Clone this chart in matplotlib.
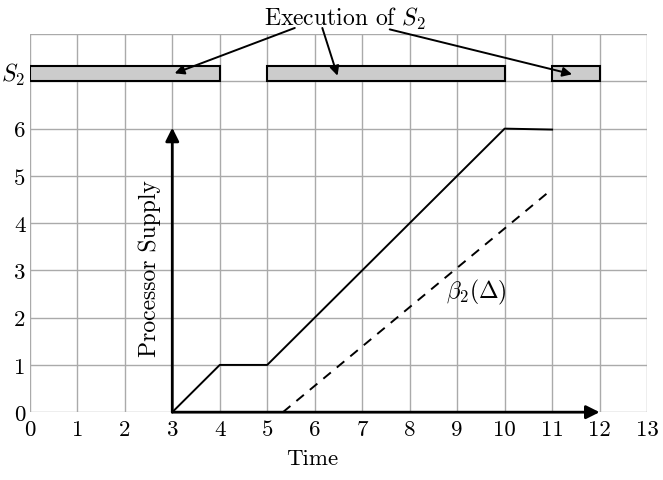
import matplotlib
matplotlib.use("Agg")
import matplotlib.pyplot as plt

plt.rcParams["font.family"] = "serif"
plt.rcParams["font.serif"] = ["cmr10"]
plt.rcParams["mathtext.fontset"] = "cm"
plt.rcParams["axes.unicode_minus"] = False

# execution intervals of S2 (start, length)
exec_start = [0, 5, 11]
exec_len = [4, 5, 1]

# processor supply curve
supply_t = [3, 4, 5, 10, 11]
supply_v = [0, 1, 1, 6, 5.98]

# linear supply bound beta_2
beta_t = [5.33, 11]
beta_v = [0, 4.72]

x_ticks = list(range(0, 14))
y_ticks = list(range(0, 7))

# annotation arrows: tail (x, y) -> head (x, y)
arrow_tails = [(5.58, 8.13), (6.16, 8.13), (7.58, 8.1)]
arrow_heads = [(3.05, 7.17), (6.48, 7.12), (11.42, 7.15)]

fig = plt.figure(figsize=(6.63, 4.81), dpi=100)
ax = fig.add_axes([0.045, 0.141, 0.931, 0.786])
ax.set_xlim(0, 13)
ax.set_ylim(0, 8)

# grid
for x in range(0, 14):
    ax.axvline(x, color="#aaaaaa", lw=1.0, zorder=0)
for y in range(0, 9):
    ax.axhline(y, color="#aaaaaa", lw=1.0, zorder=0)
for s in ax.spines.values():
    s.set_visible(False)

ax.set_xticks(x_ticks)
ax.set_xticklabels([str(v) for v in x_ticks], fontsize=16.5)
ax.set_yticks(y_ticks)
ax.set_yticklabels([str(v) for v in y_ticks], fontsize=16.5)
ax.tick_params(axis="x", length=0, pad=5)
ax.tick_params(axis="y", length=0, pad=3)
ax.text(-0.1, 7.16, r"$S_2$", ha="right", va="center", fontsize=17)

# execution bars
ax.barh([7] * len(exec_start), exec_len, left=exec_start, height=0.32, align="edge",
        color="#cccccc", edgecolor="black", lw=1.5, zorder=3)

# supply curves
ax.plot(supply_t, supply_v, color="black", lw=1.4, zorder=4)
ax.plot(beta_t, beta_v, color="black", lw=1.4, ls=(0, (5, 4)), zorder=4)

# axes arrows
arr = dict(arrowstyle="-|>", color="black", lw=2, mutation_scale=20, shrinkA=0, shrinkB=0)
ax.annotate("", xy=(3, 6.02), xytext=(3, 0), arrowprops=arr, zorder=5)
ax.annotate("", xy=(12, 0), xytext=(3, 0), arrowprops=arr, zorder=5, annotation_clip=False)

# labels
ax.text(2.53, 3.06, "Processor Supply", rotation=90, ha="center", va="center", fontsize=17)
ax.text(5.95, -0.97, "Time", ha="center", va="center", fontsize=16.5, clip_on=False)
ax.text(9.41, 2.55, r"$\beta_2(\Delta)$", ha="center", va="center", fontsize=17)
ax.text(6.63, 8.35, r"Execution of $S_2$", ha="center", va="center", fontsize=17, clip_on=False)

arr2 = dict(arrowstyle="-|>", color="black", lw=1.4, mutation_scale=14, shrinkA=0, shrinkB=0)
for tail, head in zip(arrow_tails, arrow_heads):
    ax.annotate("", xy=head, xytext=tail, arrowprops=arr2, zorder=6, annotation_clip=False)

fig.savefig("out.png", dpi=100)
